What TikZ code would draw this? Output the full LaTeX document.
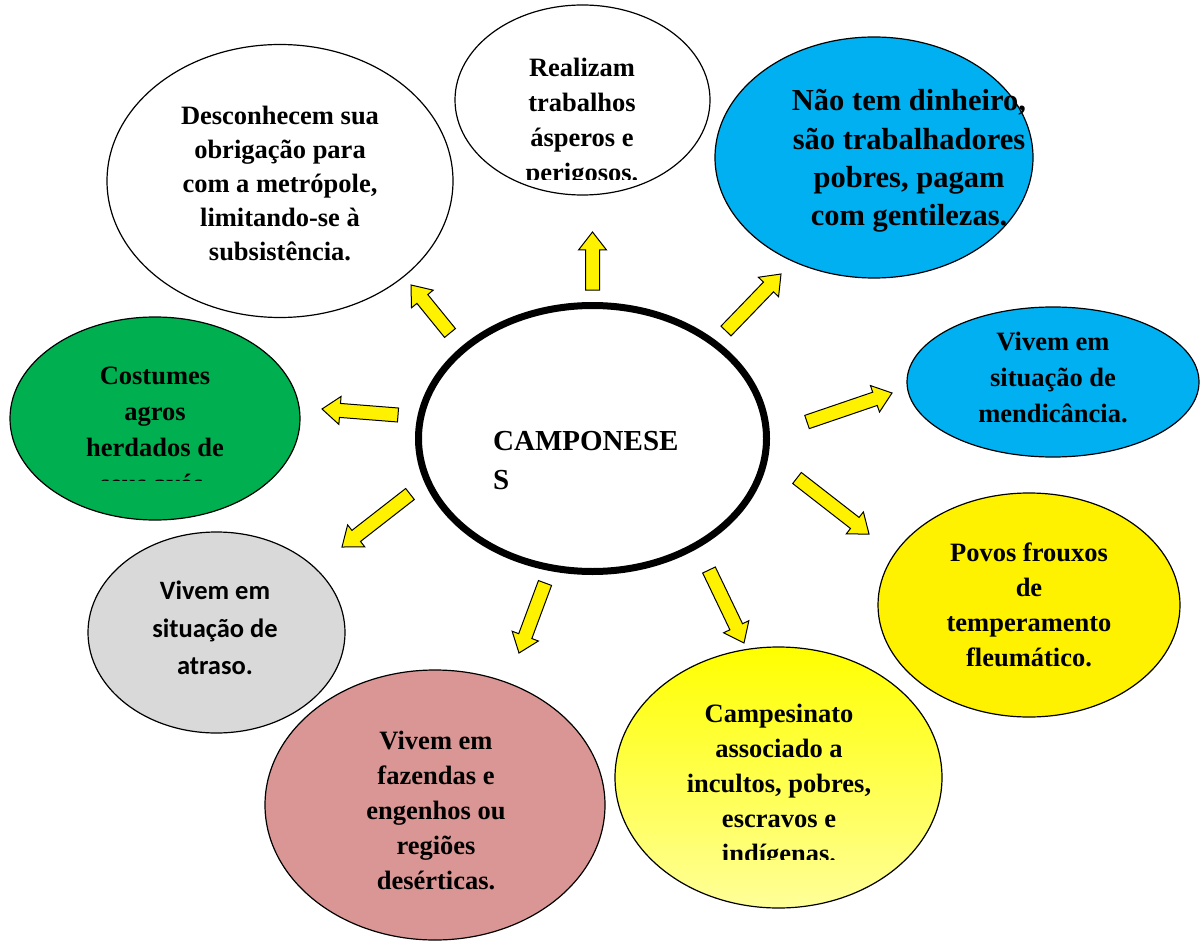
\documentclass[tikz,border=0pt]{standalone}
\usepackage{fontspec}
\setmainfont{Liberation Serif}
\newfontfamily\calfont{Carlito}
\usetikzlibrary{shapes.geometric}
\usetikzlibrary{calc}

\definecolor{skyblue}{HTML}{00B0F0}
\definecolor{leafgreen}{HTML}{00B050}
\definecolor{greybubble}{HTML}{D9D9D9}
\definecolor{rosebubble}{HTML}{DA9694}
\definecolor{paleyellow}{HTML}{FFFF99}

\tikzset{
  bubble/.style={ellipse, draw=black, line width=1.2pt, inner sep=0pt},
  txt/.style={align=center, inner sep=0pt, font=\bfseries\fontsize{26.5}{35}\selectfont},
  blockarrow/.style={draw=black, fill=yellow, line width=1pt, line join=miter,
    to path={let \p1=($(\tikztotarget)-(\tikztostart)$), \n1={atan2(\y1,\x1)},
      \n2={veclen(\x1,\y1)} in
      ($(\tikztostart)+(\n1+90:7)$) -- ($(\tikztostart)+(\n1:\n2-18)+(\n1+90:7)$)
      -- ($(\tikztostart)+(\n1:\n2-18)+(\n1+90:14)$) -- (\tikztotarget)
      -- ($(\tikztostart)+(\n1:\n2-18)+(\n1-90:14)$)
      -- ($(\tikztostart)+(\n1:\n2-18)+(\n1-90:7)$)
      -- ($(\tikztostart)+(\n1-90:7)$) -- cycle}}
}

\begin{document}
\begin{tikzpicture}[x=1pt, y=1pt]
\useasboundingbox (0,0) rectangle (1201,-941);

% the bubbles
\node[bubble, fill=white, minimum width=346pt, minimum height=273pt] (desc) at (280,-181) {};
\node[bubble, fill=white, minimum width=255pt, minimum height=190pt] (real) at (582.5,-100) {};
\node[bubble, fill=skyblue, minimum width=318pt, minimum height=241pt] (naotem) at (874,-157.5) {};
\node[bubble, fill=skyblue, minimum width=292pt, minimum height=150pt] (mend) at (1053,-382) {};
\node[bubble, fill=yellow, minimum width=302pt, minimum height=224pt] (povos) at (1029,-605) {};
\node[bubble, top color=yellow, bottom color=paleyellow, minimum width=327pt, minimum height=261pt] (campes) at (778.5,-777.5) {};
\node[bubble, fill=rosebubble, minimum width=340pt, minimum height=270pt] (faz) at (435,-805) {};
\node[bubble, fill=greybubble, minimum width=257pt, minimum height=201pt] (atraso) at (216.5,-632.5) {};
\node[bubble, fill=leafgreen, minimum width=290pt, minimum height=203pt] (cost) at (155,-418.5) {};
\node[bubble, line width=7pt, fill=white, minimum width=348pt, minimum height=266pt] (camp) at (592.5,-438.5) {};

% texts
\node[txt, font=\bfseries\fontsize{26.5}{34}\selectfont] (desct) at (280,-183) {Desconhecem sua\\obrigação para\\com a metrópole,\\limitando-se à\\subsistência.};
\begin{scope}
\clip (455,-2) rectangle (710,-180);
\node[txt] (realt) at (582,-123) {Realizam\\trabalhos\\ásperos e\\perigosos.};
\end{scope}
\node[txt, font=\bfseries\fontsize{30.5}{38.3}\selectfont] (naott) at (909,-161) {Não tem dinheiro,\\são trabalhadores\\pobres, pagam\\com gentilezas.};
\node[txt, font=\bfseries\fontsize{26.5}{36}\selectfont] (mendt) at (1053,-377) {Vivem em\\situação de\\mendicância.};
\node[txt] (povost) at (1029,-605) {Povos frouxos\\de\\temperamento\\fleumático.};
\begin{scope}
\clip (615,-640) rectangle (942,-859);
\node[txt] (campest) at (779,-786) {Campesinato\\associado a\\incultos, pobres,\\escravos e\\indígenas.};
\end{scope}
\node[txt] (fazt) at (436,-810) {Vivem em\\fazendas e\\engenhos ou\\regiões\\desérticas.};
\node[txt, font=\calfont\bfseries\fontsize{26.5}{37.5}\selectfont] (atrasot) at (215,-628) {Vivem em\\situação de\\atraso.};
\begin{scope}
\clip (10,-317) rectangle (300,-480);
\node[txt, font=\bfseries\fontsize{26.5}{36}\selectfont] (costt) at (155,-430) {Costumes\\agros\\herdados de\\seus avós.};
\end{scope}
\node[txt, align=left, anchor=west, font=\bfseries\fontsize{29}{39}\selectfont] (campt) at (493,-461) {CAMPONESE\\S};

% arrows out of the centre
\coordinate (a1s) at (450,-333);  \coordinate (a1e) at (411,-285);
\coordinate (a2s) at (592.5,-290); \coordinate (a2e) at (592.5,-232);
\coordinate (a3s) at (726,-331);  \coordinate (a3e) at (781,-274);
\coordinate (a4s) at (807,-422);  \coordinate (a4e) at (892,-393);
\coordinate (a5s) at (797,-478);  \coordinate (a5e) at (869,-534);
\coordinate (a6s) at (709,-570);  \coordinate (a6e) at (744,-643);
\coordinate (a7s) at (545,-583);  \coordinate (a7e) at (519,-653);
\coordinate (a8s) at (410,-494);  \coordinate (a8e) at (342,-547);
\coordinate (a9s) at (398,-415);  \coordinate (a9e) at (322,-409);
\foreach \i in {1,...,9}
  \draw[blockarrow] (a\i s) to (a\i e);
\end{tikzpicture}
\end{document}
